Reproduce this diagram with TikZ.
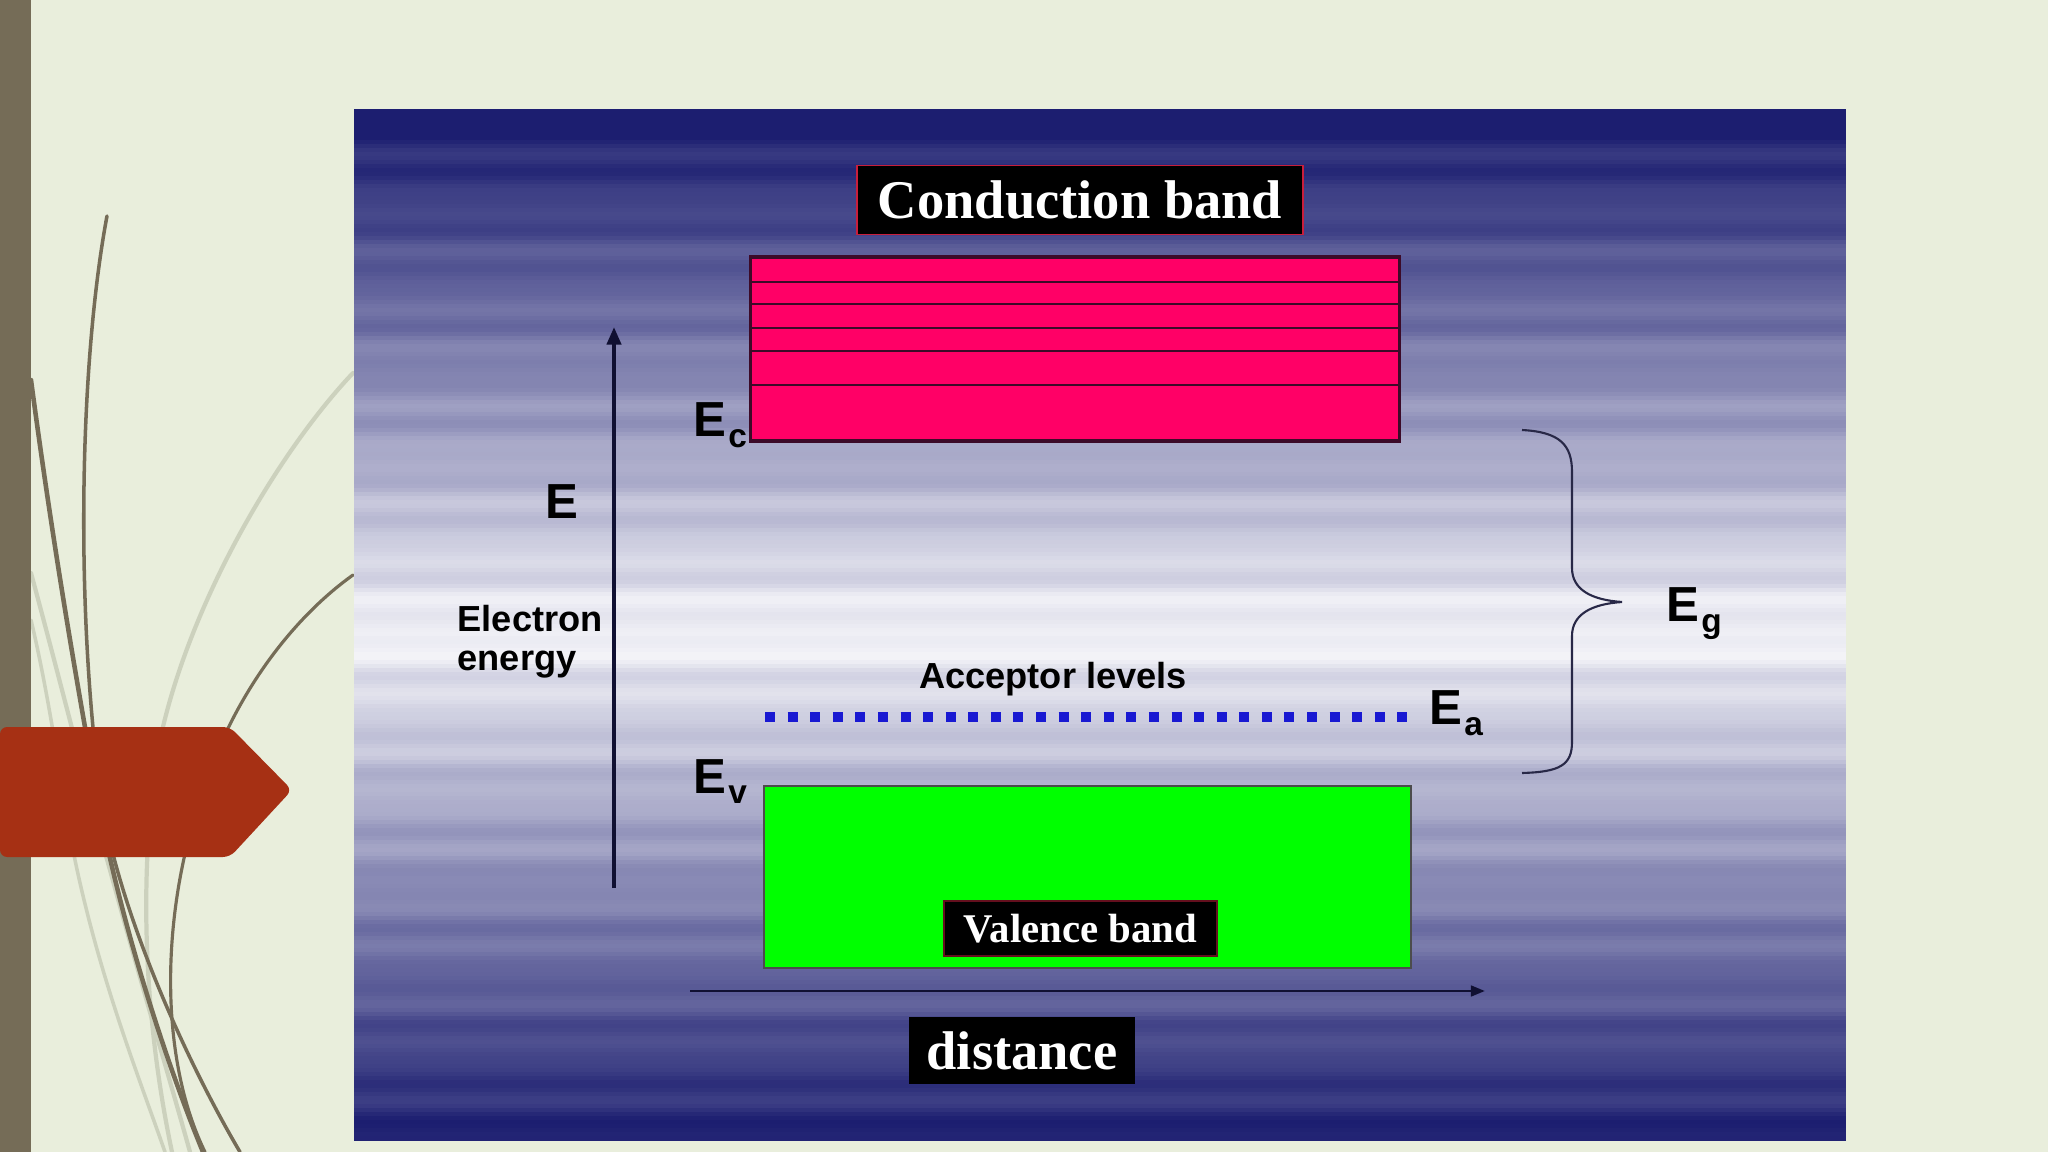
\documentclass[tikz,border=0pt]{standalone}
\usepackage{fontspec}
\setmainfont{Liberation Serif}
\newfontfamily\arialf{Liberation Sans}
\usetikzlibrary{arrows.meta}
\definecolor{slidebg}{RGB}{233,238,220}
\definecolor{olivedark}{RGB}{117,108,87}
\definecolor{olivelight}{RGB}{204,209,189}
\definecolor{rust}{RGB}{166,48,20}
\definecolor{bandnavy}{RGB}{28,30,112}
\definecolor{cbpink}{RGB}{255,0,102}
\definecolor{cbedge}{RGB}{60,10,40}
\definecolor{vbgreen}{RGB}{0,255,0}
\definecolor{axisdark}{RGB}{16,16,50}
\definecolor{accblue}{RGB}{25,25,210}
\definecolor{boxred}{RGB}{200,30,60}
\newcommand{\Elab}[1]{E\kern0.5pt\raisebox{-3pt}{\fontsize{9.5}{10}\selectfont #1}}
\begin{document}
\begin{tikzpicture}[x=0.01cm,y=-0.01cm,
  elabel/.style={font={\arialf\bfseries\fontsize{14}{16}\selectfont}, text=black, inner sep=0pt, anchor=base west},
  smalllabel/.style={font={\arialf\bfseries\fontsize{10.3}{12}\selectfont}, text=black, inner sep=0pt},
  titlebox/.style={fill=black, text=white, inner sep=0pt, font={\bfseries\fontsize{15.5}{18}\selectfont}},
  bandline/.style={draw=cbedge, line width=0.7pt},
  axisline/.style={draw=axisdark, line width=1.1pt},
  deco/.style={draw=olivedark, line cap=round},
  decolight/.style={draw=olivelight, line cap=round}]
\useasboundingbox (0,0) rectangle (2048,1152);
% slide background
\fill[slidebg] (0,0) rectangle (2048,1152);
% decorative curves
\draw[decolight, line width=1.2pt] (353,373) .. controls (280,450) and (190,600) .. (160,740) .. controls (140,850) and (140,1000) .. (172,1152);
\draw[decolight, line width=1.2pt] (31,573) .. controls (60,680) and (90,800) .. (110,870) .. controls (140,980) and (170,1080) .. (190,1152);
\draw[decolight, line width=1pt] (31,620) .. controls (50,700) and (60,780) .. (75,860) .. controls (100,980) and (140,1080) .. (165,1152);
\draw[deco, line width=1.3pt] (31,380) .. controls (55,560) and (80,700) .. (98,800) .. controls (120,920) and (165,1060) .. (203,1152);
\draw[deco, line width=1pt] (107,216) .. controls (80,360) and (75,600) .. (100,790) .. controls (115,900) and (180,1050) .. (240,1152);
\draw[deco, line width=0.9pt] (353,575) .. controls (290,620) and (230,700) .. (200,800) .. controls (160,920) and (160,1060) .. (205,1152);
% left bar and red arrow
\fill[olivedark] (0,0) rectangle (31,1152);
\fill[rust, rounded corners=2pt] (0,727) -- (230,727) -- (292,790) -- (230,857) -- (0,857) -- cycle;
% panel with horizontal streaks
\begin{scope}
\clip (354,110) rectangle (1846,1140);
\foreach \yy in {108,112,...,1140} {
  \pgfmathsetmacro\w{max(0,min(100,100*(1-abs(\yy-632)/545)-7*(sin(\yy*3.6))^2-5*(sin(\yy*5.7+30))^2))}
  \fill[white!\w!bandnavy] (354,\yy) rectangle (1846,\yy+4.6);
}
\end{scope}
% conduction band
\node[titlebox, draw=boxred, line width=0.5pt, minimum width=4.46cm, minimum height=0.69cm] (cbtitle) at (1080,200) {Conduction band};
\node[fill=cbpink, draw=cbedge, line width=0.9pt, minimum width=6.48cm, minimum height=1.84cm, inner sep=0pt] (cb) at (1075,349) {};
\foreach \ly in {282,304,328,351,385} {
  \draw[bandline] (cb.west |- 0,\ly) -- (cb.east |- 0,\ly);
}
\node[elabel] (ec) at (693,437) {\Elab{c}};
% valence band
\node[fill=vbgreen, draw=black!70, line width=0.6pt, minimum width=6.47cm, minimum height=1.82cm, inner sep=0pt] (vb) at (1087.5,877) {};
\node[titlebox, draw=boxred!50!black, line width=0.4pt, minimum width=2.73cm, minimum height=0.55cm, font={\bfseries\fontsize{11.6}{14}\selectfont}] (vbtitle) at (1080.5,928.5) {Valence band};
\node[elabel] (ev) at (693,793) {\Elab{v}};
% acceptor levels
\coordinate (ea-l) at (765,717);
\coordinate (ea-r) at (1407,717);
\draw[accblue, line width=0.1cm, dash pattern=on 0.1cm off 0.1257cm] (ea-l) -- (ea-r);
\node[smalllabel, anchor=base] (acc) at (1053,688) {Acceptor levels};
\node[elabel] (ea) at (1429,725) {\Elab{a}};
% energy axis
\coordinate (eaxis-b) at (614,888);
\coordinate (eaxis-t) at (614,327);
\draw[axisline, -{Triangle[length=5pt,width=4pt]}] (eaxis-b) -- (eaxis-t);
\node[elabel] (elbl) at (545,519) {E};
\node[smalllabel, anchor=base west] (eleclbl) at (457,631) {Electron};
\node[smalllabel, anchor=base west] (energylbl) at (457,670) {energy};
% distance axis
\coordinate (daxis-l) at (690,991);
\coordinate (daxis-r) at (1485,991);
\draw[draw=axisdark, line width=0.8pt, -{Triangle[length=4pt,width=3pt]}] (daxis-l) -- (daxis-r);
\node[titlebox, minimum width=2.26cm, minimum height=0.67cm] (dist) at (1022,1050.5) {distance};
% band gap brace
\coordinate (br-t) at (1522,430);
\coordinate (br-m) at (1622,602);
\coordinate (br-b) at (1522,773);
\draw[draw=axisdark!90, line width=0.6pt] (br-t) .. controls (1560,432) and (1572,445) .. (1572,472) -- (1572,568) .. controls (1572,590) and (1592,600) .. (br-m) .. controls (1592,604) and (1572,614) .. (1572,636) -- (1572,742) .. controls (1572,765) and (1560,772) .. (br-b);
\node[elabel] (eg) at (1666,622) {\Elab{g}};
\end{tikzpicture}
\end{document}
